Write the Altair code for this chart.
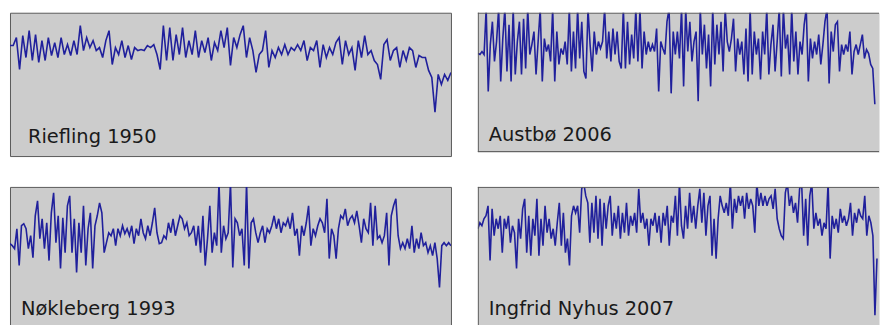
import altair as alt
import pandas as pd

# Panel labels
names = ["Riefling 1950", "Austbø 2006", "Nøkleberg 1993", "Ingfrid Nyhus 2007"]

# Tempo-deviation series (larger value = drawn lower)
riefling = [33,33,25,57,23,45,18,48,22,50, 28,48,25,43,30,45,25,42,32,43,
            28,42,13,38,25,35,28,38,35,45, 28,18,52,35,42,28,45,33,47,35,
            38,37,38,33,35,32,42,57,13,48, 15,48,22,42,15,45,28,42,18,45,
            28,40,25,48,30,38,18,35,
            15,53,25,35,22,13,45,25,38,60, 42,38,18,55,38,45,35,42,32,42,
            35,38,32,38,28,48,35,38,28,55, 32,45,35,42,30,25,52,28,42,35,
            58,28,45,23,42,38,48,52,67,32, 27,48,38,35,55,38,48,35,38,55,
            43,45,45,58,65,100,62,72,62,68, 60]

austbo = [41,42,39,42,-4,79,32,9,49,29, -4,69,26,-4,59,12,69,-4,62,29,
          9,62,6,56,-4,42,32,19,62,29, -4,69,26,39,32,49,-4,69,19,52,
          36,42,29,52,-4,59,19,56,-4,46, 9,59,66,-4,32,59,19,42,29,36,
          29,-4,46,19,49,16,42,19,49,56, -4,56,9,52,22,46,-4,49,-4,56,
          19,42,29,39,32,39,16,79,29,36, 42,9,-4,81,19,42,
          19,46,-4,74,-4,39,9,49,29,19, 89,-4,42,12,56,22,74,-4,52,12,
          42,9,59,-4,29,39,26,6,59,26, 42,29,62,16,69,-4,62,19,42,26,
          67,19,42,-4,62,32,12,59,29,-4, 64,-4,36,22,62,-4,49,19,62,29,
          42,12,-4,69,26,46,29,42,22,52, 32,9,-4,71,19,39,12,9,59,32,
          42,32,39,19,62,39,32,42,32,22, 46,37,41,52,56,92]

nokleberg = [57,59,62,42,79,39,37,42,62,49, 71,29,14,52,32,62,36,74,26,6,
             56,29,82,31,66,19,9,66,32,86, 36,66,19,79,42,26,82,39,29,16,
             26,66,56,46,49,42,59,42,49,39, 47,42,49,39,57,42,49,32,46,52,
             39,49,36,21,46,57,56,49,52,36, 46,32,49,39,29,32,42,36,49,46,
             39,59,39,66,29,79,52,19,66,46, 59,-4,66,39,52,46,
             -4,81,32,36,49,42,79,-4,82,36, 32,46,56,46,39,56,42,46,39,29,
             42,32,46,36,39,32,42,26,49,42, 69,39,49,36,19,59,42,49,39,32,
             36,46,12,72,42,49,72,42,29,32, 22,39,32,29,36,24,39,56,32,42,
             46,16,59,19,52,49,56,49,26,79, 29,19,12,49,62,56,62,52,62,39,
             66,52,62,46,59,56,66,59,69,56, 72,101,59,56,59,56,59]

nyhus = [42,36,39,32,29,19,74,22,49,32, 42,29,66,32,42,29,56,39,46,82,
         32,52,22,12,66,29,69,32,49,12, 69,32,59,19,46,32,52,42,59,36,
         16,59,26,66,52,79,29,19,26,19, 46,2,-4,9,16,56,16,46,9,52,
         12,59,16,42,19,9,49,26,42,19, 52,26,46,16,49,29,39,26,46,2,
         36,26,42,32,59,32,39,26,46,29, 56,26,39,19,59,29,36,9,49,
         -4,39,52,19,42,6,36,19,42,19, 2,36,6,49,19,9,69,32,72,32,
         9,19,26,16,29,-4,42,12,26,9, 19,9,32,6,22,12,19,46,-4,19,
         6,19,9,19,12,9,22,2,32,42, 49,52,6,-4,19,9,26,16,36,2,
         -4,49,12,59,9,-4,42,26,39,32, 49,36,42,-4,72,29,42,32,46,22,
         36,29,39,32,16,49,26,36,22,29, 32,9,49,29,36,49,129,72]

series = [riefling, austbo, nokleberg, nyhus]
x_extent = [len(riefling) - 1, 193, len(nokleberg) - 1, 197]
widths = [443, 403, 443, 403]
heights = [144, 140, 144, 144]
label_pos = [(18, 131), (11, 129), (11, 129), (11, 129)]
right_side = [False, True, False, True]

LINE = "#20209c"
BORDER = "#5a5a5a"
FILL = "#cccccc"


def panel(k):
    vals = series[k]
    w, h = widths[k], heights[k]
    df = pd.DataFrame({"i": list(range(len(vals))), "v": vals})
    line = alt.Chart(df).mark_line(color=LINE, strokeWidth=1.6, clip=True).encode(
        x=alt.X("i:Q", axis=None,
                scale=alt.Scale(domain=[0, x_extent[k]], nice=False, zero=False)),
        y=alt.Y("v:Q", axis=None,
                scale=alt.Scale(domain=[0, h], nice=False, zero=False, reverse=True)),
    )
    lab = alt.Chart(pd.DataFrame({"label": [names[k]]})).mark_text(
        align="left", baseline="alphabetic", font="DejaVu Sans",
        fontSize=19.5, color="#1a1a1a"
    ).encode(
        x=alt.value(label_pos[k][0]),
        y=alt.value(label_pos[k][1]),
        text="label:N",
    )
    layers = [line, lab]
    if right_side[k]:
        one = pd.DataFrame({"o": [0]})
        top_b = alt.Chart(one).mark_rule(color=BORDER, strokeWidth=1).encode(
            x=alt.value(0), x2=alt.value(w), y=alt.value(0.5))
        left_b = alt.Chart(one).mark_rule(color=BORDER, strokeWidth=1).encode(
            x=alt.value(0.5), y=alt.value(0), y2=alt.value(h))
        bot_b = alt.Chart(one).mark_rule(color=BORDER, strokeWidth=1).encode(
            x=alt.value(0), x2=alt.value(w), y=alt.value(h - 0.5))
        layers += [top_b, left_b, bot_b]
        return alt.layer(*layers).properties(
            width=w, height=h,
            view=alt.ViewBackground(fill=FILL, stroke="transparent"),
        )
    return alt.layer(*layers).properties(
        width=w, height=h,
        view=alt.ViewBackground(fill=FILL, stroke=BORDER, strokeWidth=1),
    )


top = alt.hconcat(panel(0), panel(1), spacing=25)
bottom = alt.hconcat(panel(2), panel(3), spacing=25)
chart = alt.vconcat(top, bottom, spacing=29).properties(
    padding={"left": 1, "top": 3, "right": 0, "bottom": 0},
    background="white",
).configure_view(fill=FILL, stroke=BORDER, strokeWidth=1)

chart.save("out.html", embed_options={"renderer": "svg", "actions": False})
